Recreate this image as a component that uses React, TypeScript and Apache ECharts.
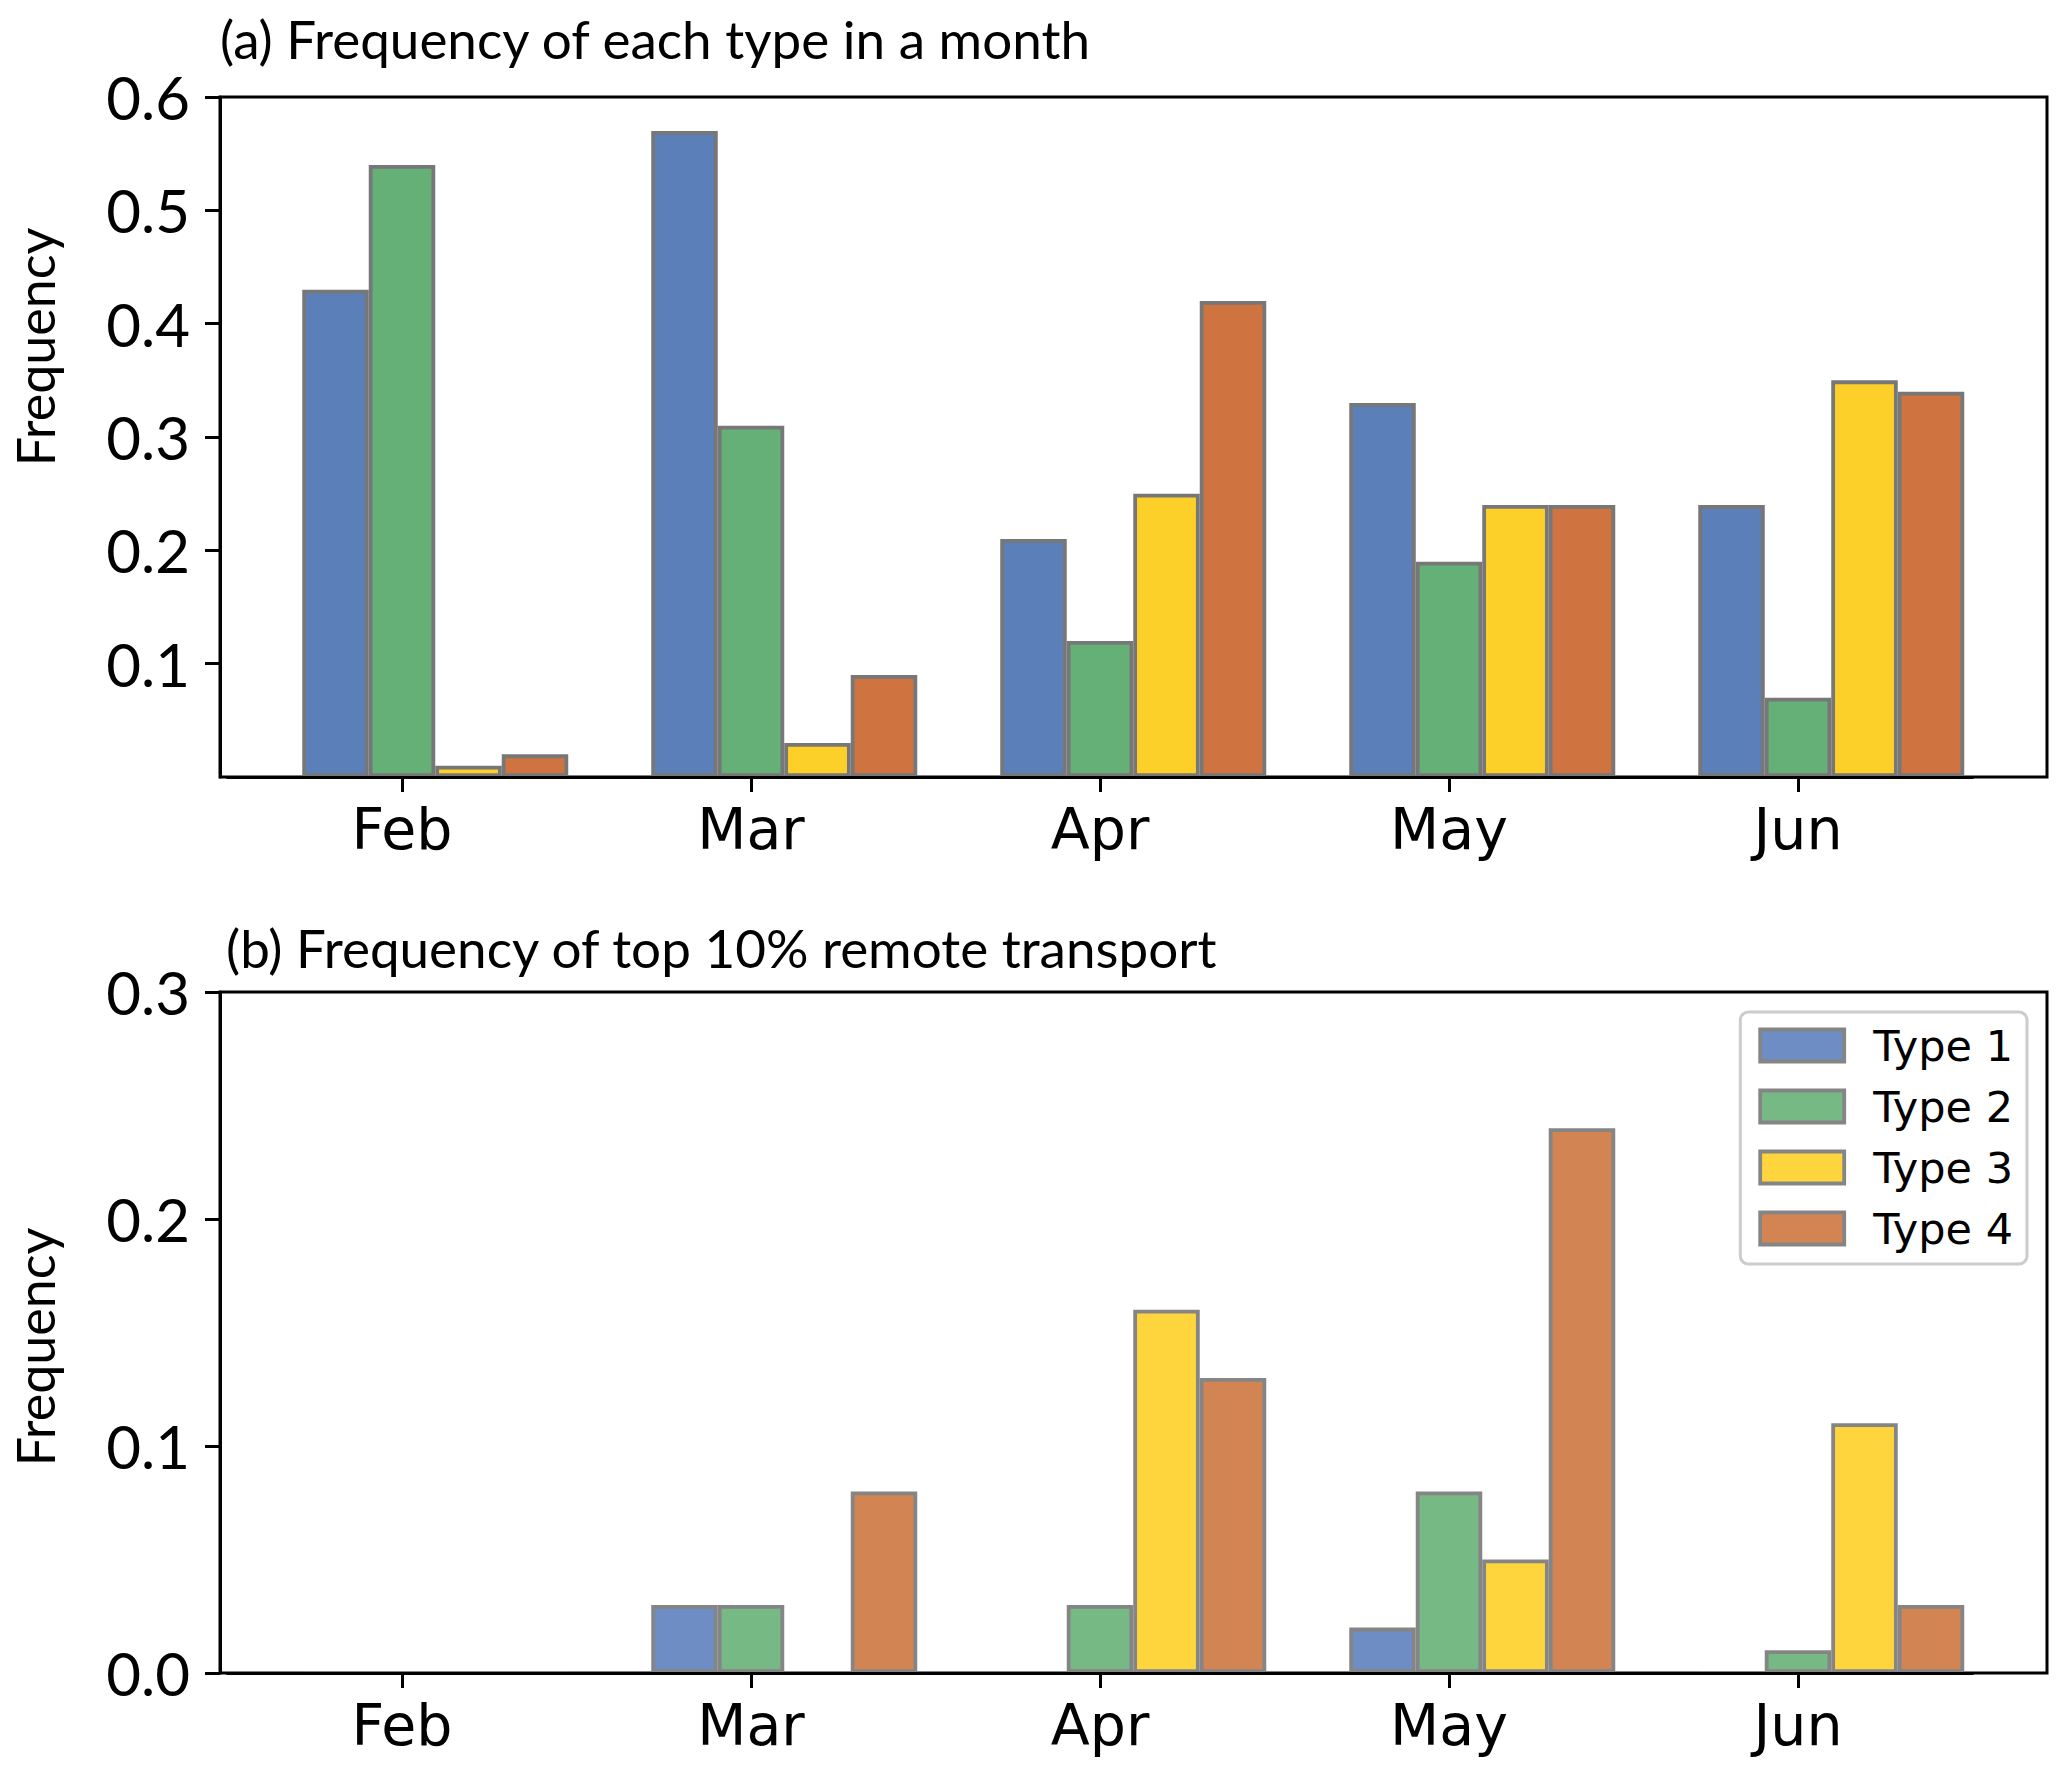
import React, { useEffect, useRef } from "react";
import * as echarts from "echarts";

const months = ["Feb", "Mar", "Apr", "May", "Jun"];
const typeNames = ["Type 1", "Type 2", "Type 3", "Type 4"];

const panelAType1 = [0.43, 0.57, 0.21, 0.33, 0.24];
const panelAType2 = [0.54, 0.31, 0.12, 0.19, 0.07];
const panelAType3 = [0.01, 0.03, 0.25, 0.24, 0.35];
const panelAType4 = [0.02, 0.09, 0.42, 0.24, 0.34];

const panelBType1 = [0, 0.03, 0, 0.02, 0];
const panelBType2 = [0, 0.03, 0.03, 0.08, 0.01];
const panelBType3 = [0, 0, 0.16, 0.05, 0.11];
const panelBType4 = [0, 0.08, 0.13, 0.24, 0.03];

const panelATicks = [0.1, 0.2, 0.3, 0.4, 0.5, 0.6];
const panelBTicks = [0, 0.1, 0.2, 0.3];

const titleA = "(a) Frequency of each type in a month";
const titleB = "(b) Frequency of top 10% remote transport";
const yName = "Frequency";

const colorsA = ["#5b7fb8", "#65b077", "#fdd029", "#cf7440"];
const colorsB = ["#6d8dc4", "#77b985", "#fed53d", "#d38453"];

const W = 2067;
const H = 1775;
const FRAME_LEFT = 220;
const FRAME_RIGHT = 2047;
const BAND_LEFT = 227.5;
const BAND_RIGHT = 1972.5;
const PANELS = [
  { top: 97, bottom: 777 },
  { top: 992, bottom: 1673 },
];
const BAR_W = 66.5;

export default function App() {
  const ref = useRef<HTMLDivElement>(null);

  useEffect(() => {
    document.body.style.margin = "0";
    if (!ref.current) return;
    const chart = echarts.init(ref.current, null, { renderer: "svg" });

    const seriesA = [panelAType1, panelAType2, panelAType3, panelAType4];
    const seriesB = [panelBType1, panelBType2, panelBType3, panelBType4];

    const grids: any[] = [];
    const xAxes: any[] = [];
    const yAxes: any[] = [];
    const series: any[] = [];

    PANELS.forEach((p, pi) => {
      const height = p.bottom - p.top;
      const ticks = pi === 0 ? panelATicks : panelBTicks;
      const maxV = pi === 0 ? 0.6 : 0.3;
      grids.push({
        left: FRAME_LEFT,
        top: p.top,
        width: FRAME_RIGHT - FRAME_LEFT,
        height,
        show: true,
        borderColor: "#000",
        borderWidth: 3,
        backgroundColor: "transparent",
        containLabel: false,
      });
      grids.push({
        left: BAND_LEFT,
        top: p.top,
        width: BAND_RIGHT - BAND_LEFT,
        height,
        containLabel: false,
      });
      xAxes.push({
        gridIndex: 2 * pi,
        type: "value",
        show: false,
        min: 0,
        max: 1,
      });
      xAxes.push({
        gridIndex: 2 * pi + 1,
        type: "category",
        data: months,
        z: 10,
        axisLine: { show: true, lineStyle: { color: "#000", width: 3 } },
        axisTick: {
          show: true,
          alignWithLabel: true,
          length: 15,
          lineStyle: { color: "#000", width: 3 },
        },
        axisLabel: {
          fontFamily: "DejaVu Sans",
          fontSize: 57,
          color: "#000",
          margin: 23,
        },
        splitLine: { show: false },
      });
      yAxes.push({
        gridIndex: 2 * pi,
        type: "value",
        min: 0,
        max: maxV,
        interval: 0.1,
        z: 10,
        axisLine: { show: true, lineStyle: { color: "#000", width: 3 } },
        axisTick: {
          show: true,
          length: 15,
          lineStyle: { color: "#000", width: 3 },
          customValues: ticks,
        },
        axisLabel: {
          fontFamily: "Lato",
          fontSize: 60,
          color: "#000",
          margin: 30,
          customValues: ticks,
          formatter: (v: number) =>
            ticks.some((t) => Math.abs(t - v) < 1e-9) ? v.toFixed(1) : "",
        },
        splitLine: { show: false },
      });
      yAxes.push({
        gridIndex: 2 * pi + 1,
        type: "value",
        min: 0,
        max: maxV,
        interval: 0.1,
        show: false,
        splitLine: { show: false },
      });

      // spacer series so the tick sits under the second bar of each group
      series.push({
        type: "bar",
        name: "spacer" + pi,
        xAxisIndex: 2 * pi + 1,
        yAxisIndex: 2 * pi + 1,
        barWidth: BAR_W,
        barGap: "0%",
        silent: true,
        data: months.map(() => 0),
        itemStyle: { color: "rgba(0,0,0,0)", borderWidth: 0 },
      });
      const vals = pi === 0 ? seriesA : seriesB;
      const cols = pi === 0 ? colorsA : colorsB;
      vals.forEach((arr, si) => {
        series.push({
          type: "bar",
          name: typeNames[si],
          xAxisIndex: 2 * pi + 1,
          yAxisIndex: 2 * pi + 1,
          barWidth: BAR_W,
          barGap: "0%",
          data: arr,
          itemStyle: {
            color: cols[si],
            borderColor: pi === 0 ? "#777777" : "#858585",
            borderWidth: 3.8,
          },
        });
      });
    });

    const titleStyle = {
      fontFamily: "Lato",
      fontSize: 53,
      fill: "#000",
    };

    const option: any = {
      animation: false,
      backgroundColor: "#fff",
      grid: grids,
      xAxis: xAxes,
      yAxis: yAxes,
      series,
      legend: {
        show: true,
        orient: "vertical",
        right: W - 2027,
        top: 1012,
        padding: [12, 14, 14, 18],
        itemWidth: 84,
        itemHeight: 32,
        itemGap: 18,
        icon: "rect",
        selectedMode: false,
        borderColor: "#cccccc",
        borderWidth: 3,
        borderRadius: 8,
        backgroundColor: "#fff",
        textStyle: {
          fontFamily: "DejaVu Sans",
          fontSize: 43,
          color: "#000",
          padding: [0, 0, 0, 24],
        },
        data: typeNames.map((n, i) => ({
          name: n,
          itemStyle: {
            color: colorsB[i],
            borderColor: "#858585",
            borderWidth: 3.8,
          },
        })),
      },
      graphic: [
        {
          type: "text",
          left: 220,
          top: 12,
          style: { text: titleA, ...titleStyle },
        },
        {
          type: "text",
          left: 226,
          top: 921,
          style: { text: titleB, ...titleStyle },
        },
        {
          type: "text",
          x: 35,
          y: 347,
          rotation: Math.PI / 2,
          style: {
            text: yName,
            ...titleStyle,
            fontSize: 52,
            align: "center",
            verticalAlign: "middle",
          },
        },
        {
          type: "text",
          x: 35,
          y: 1347,
          rotation: Math.PI / 2,
          style: {
            text: yName,
            ...titleStyle,
            fontSize: 52,
            align: "center",
            verticalAlign: "middle",
          },
        },
      ],
    };

    chart.setOption(option);
    return () => chart.dispose();
  }, []);

  return <div ref={ref} style={{ width: W, height: H }} />;
}
